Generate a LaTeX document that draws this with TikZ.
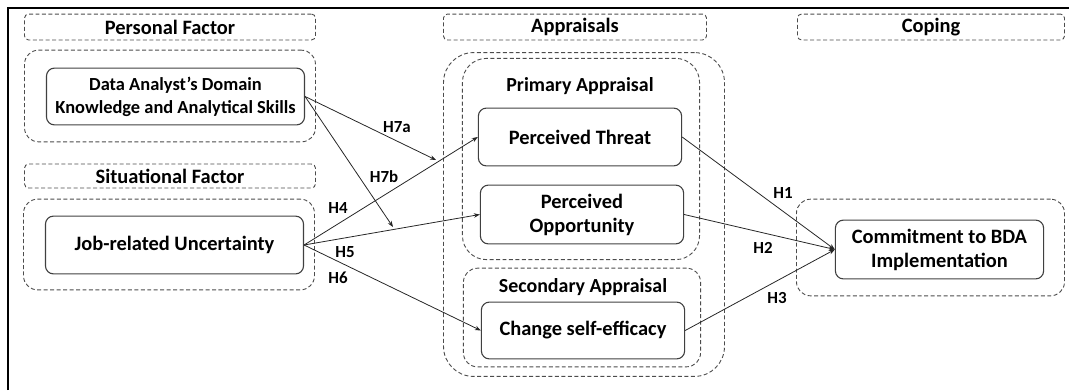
\documentclass[tikz,border=0pt]{standalone}
\usepackage{fontspec}
\setmainfont{Carlito}
\usetikzlibrary{arrows.meta}
\colorlet{boxline}{black!75}
\colorlet{groupline}{black!70}

\tikzset{
  header/.style={draw=groupline, line width=0.9pt, dash pattern=on 4pt off 2.5pt, rounded corners=4pt,
    minimum height=26, inner sep=0pt, font=\bfseries\fontsize{20.5}{22}\selectfont},
  group/.style={draw=groupline, line width=0.9pt, dash pattern=on 4pt off 2.5pt, rounded corners=14pt, inner sep=0pt},
  construct/.style={draw=boxline, line width=1.1pt, rounded corners=8pt, align=center, inner sep=0pt,
    font=\bfseries\fontsize{20.5}{24}\selectfont},
  grouplabel/.style={font=\bfseries\fontsize{20}{22}\selectfont},
  hyp/.style={font=\bfseries\fontsize{17}{18}\selectfont},
  path/.style={draw=black!85, line width=0.8pt, -{Stealth[length=6pt,width=4.5pt]}}
}

\begin{document}
\begin{tikzpicture}[x=1bp, y=-1bp]
\useasboundingbox (0,0) rectangle (1069,390);
\draw[line width=2.5bp] (8,390) -- (8,8) -- (1069,8);

% column headers
\node[header, minimum width=292] (personal) at (170,27) {Personal Factor};
\node[header, minimum width=292, minimum height=24] (situational) at (170,176) {Situational Factor};
\node[header, minimum width=264] (appraisals) at (575,27) {Appraisals};
\node[header, minimum width=268] (coping) at (931,27) {Coping};

% dashed groups
\node[group, minimum width=292, minimum height=92] (personalgrp) at (170,96) {};
\node[group, minimum width=292, minimum height=91] (situationalgrp) at (169,244.5) {};
\node[group, rounded corners=30pt, minimum width=282, minimum height=325] (appraisalgrp) at (584,214.5) {};
\node[group, rounded corners=24pt, minimum width=238, minimum height=202] (primarygrp) at (581,159) {};
\node[group, minimum width=238, minimum height=99] (secondarygrp) at (582,317.5) {};
\node[group, minimum width=269, minimum height=97] (copinggrp) at (930.5,247.5) {};
\node[grouplabel] (primarylbl) at (580,86) {Primary Appraisal};
\node[grouplabel] (secondarylbl) at (583,287) {Secondary Appraisal};

% constructs
\node[construct, minimum width=259, minimum height=57, font=\bfseries\fontsize{18.5}{23}\selectfont] (analyst) at (175.5,96.5) {Data Analyst’s Domain\\Knowledge and Analytical Skills};
\node[construct, minimum width=259, minimum height=58] (uncertainty) at (174.5,245) {Job-related Uncertainty};
\node[construct, minimum width=204, minimum height=58] (threat) at (580,137) {Perceived Threat};
\node[construct, minimum width=204, minimum height=59] (opportunity) at (582,214.5) {Perceived\\Opportunity};
\node[construct, minimum width=204, minimum height=57] (efficacy) at (583,330.5) {Change self-efficacy};
\node[construct, minimum width=209, minimum height=59] (commitment) at (939.5,249.5) {Commitment to BDA\\Implementation};

% moderation targets
\coordinate (h7aend) at (436,160);
\coordinate (h7bend) at (393,227);

% paths
\draw[path] (uncertainty.east) -- (threat.west);
\draw[path] (uncertainty.east) -- (opportunity.west);
\draw[path] (uncertainty.east) -- (efficacy.west);
\draw[path] (analyst.east) -- (h7aend);
\draw[path] (analyst.east) -- (h7bend);
\draw[path] (threat.east) -- (commitment.west);
\draw[path] (opportunity.east) -- (commitment.west);
\draw[path] (efficacy.east) -- (commitment.west);

% hypothesis labels
\node[hyp] (h7a) at (397,127) {H7a};
\node[hyp] (h7b) at (384,177) {H7b};
\node[hyp] (h4) at (338,208) {H4};
\node[hyp] (h5) at (345,252) {H5};
\node[hyp] (h6) at (338,278) {H6};
\node[hyp] (h1) at (783,193) {H1};
\node[hyp] (h2) at (763,248) {H2};
\node[hyp] (h3) at (777,298) {H3};
\end{tikzpicture}
\end{document}
